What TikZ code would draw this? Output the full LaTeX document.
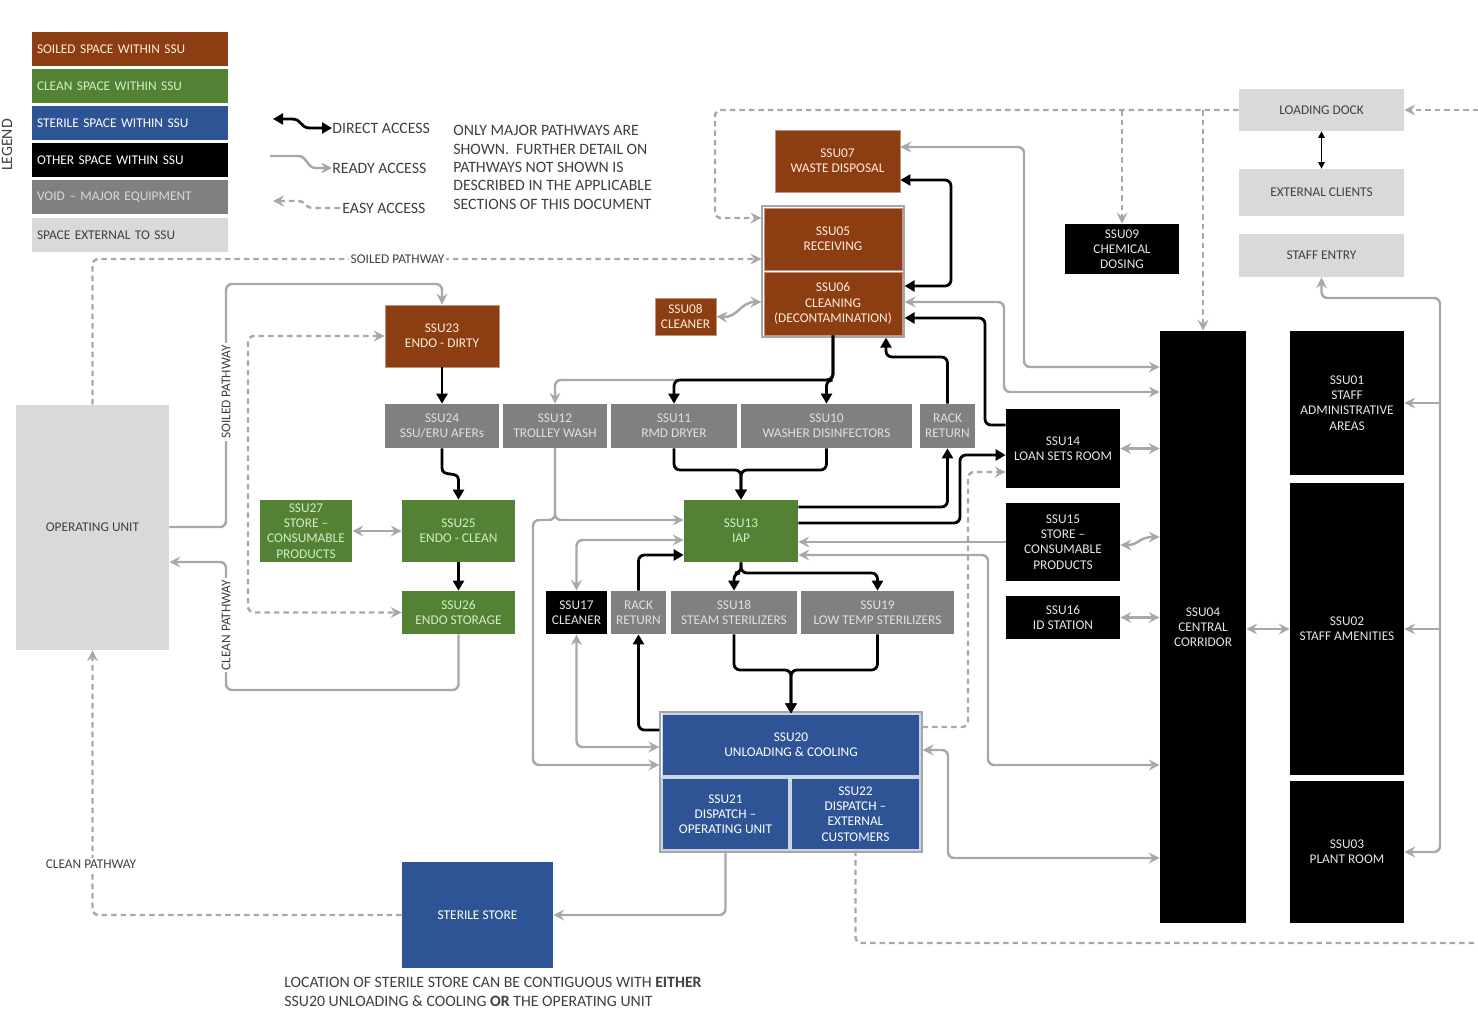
\documentclass[tikz,border=0pt]{standalone}
\usepackage{fontspec}
\setmainfont{Carlito}
\setsansfont{Carlito}
\usepackage{tikz}
\usetikzlibrary{
    arrows.meta,
    positioning,
    fit,
    calc
}
\usepackage{xcolor}
\definecolor{soiled}{RGB}{140,62,18}
\definecolor{clean}{RGB}{84,130,53}
\definecolor{cleantext}{RGB}{214,236,196}
\definecolor{sterile}{RGB}{47,84,150}
\definecolor{voidgray}{RGB}{128,128,128}
\definecolor{extgray}{RGB}{217,217,217}
\definecolor{pathgray}{RGB}{168,168,168}
\definecolor{textgray}{RGB}{64,64,64}
\tikzset{
    % Rooms
    room/.style={
        rectangle,
        inner sep=1pt,
        align=center,
        font=\fontsize{7.6}{8.7}\selectfont
    },
    soiledroom/.style={room, fill=soiled, draw=soiled!55!white, line width=0.5pt, text=white!85!orange},
    cleanroom/.style={room, fill=clean, text=cleantext},
    sterileroom/.style={room, fill=sterile, draw=white!75!sterile, line width=0.6pt, text=white},
    otherroom/.style={room, fill=black, text=white!90!black},
    voidroom/.style={room, fill=voidgray, text=white!88!black},
    extroom/.style={room, fill=extgray, text=textgray},
    framebox/.style={rectangle, draw=white!65!black, line width=0.8pt, inner sep=0.3mm},
    % Legend
    legendbox/.style={
        rectangle,
        minimum height=0.68cm,
        text width=3.72cm,
        inner xsep=0.1cm,
        align=left,
        font=\fontsize{7.6}{8.7}\selectfont
    },
    % Arrows
    directpath/.style={
        ->,
        >={Triangle[length=2mm,width=2.2mm]},
        line width=1.6pt,
        draw=black,
        rounded corners=1.2mm
    },
    readypath/.style={
        ->,
        >={Stealth[length=2.2mm,width=2.2mm,inset=0.8mm]},
        line width=1.4pt,
        draw=pathgray,
        rounded corners=1.2mm
    },
    easypath/.style={
        ->,
        >={Stealth[length=2.2mm,width=2.2mm,inset=0.8mm]},
        line width=1.4pt,
        draw=pathgray,
        dash pattern=on 1.1mm off 0.8mm,
        rounded corners=1.2mm
    },
    thinpath/.style={
        <->,
        >={Triangle[length=1.3mm,width=1.3mm]},
        line width=0.7pt,
        draw=black
    },
    % Labels
    pathlabel/.style={font=\fontsize{7.6}{8.7}\selectfont, text=textgray, fill=white, inner sep=1pt},
    notetext/.style={font=\fontsize{9}{10.5}\selectfont, text=textgray, align=left, inner sep=0pt}
}

\begin{document}
\begin{tikzpicture}[x=0.02cm, y=-0.02cm]

    \useasboundingbox (0,0) rectangle (1478,1011);
    \fill[white] (0,0) rectangle (1478,1011);

    % Legend
    \node[font=\fontsize{9}{10}\selectfont, text=textgray, rotate=90] (legend_title) at (7,145) {LEGEND};
    \node[legendbox, fill=soiled, text=white!85!orange] (leg_soiled) at (130,49) {SOILED SPACE WITHIN SSU};
    \node[legendbox, fill=clean, text=cleantext] (leg_clean) at (130,86) {CLEAN SPACE WITHIN SSU};
    \node[legendbox, fill=sterile, text=white] (leg_sterile) at (130,123) {STERILE SPACE WITHIN SSU};
    \node[legendbox, fill=black, text=white] (leg_other) at (130,160) {OTHER SPACE WITHIN SSU};
    \node[legendbox, fill=voidgray, text=white!85!black] (leg_void) at (130,197) {VOID -- MAJOR EQUIPMENT};
    \node[legendbox, fill=extgray, text=textgray] (leg_ext) at (130,235) {SPACE EXTERNAL TO SSU};

    \node[notetext, anchor=west] (lg_direct) at (332,128) {DIRECT ACCESS};
    \node[notetext, anchor=west] (lg_ready) at (332,168) {READY ACCESS};
    \node[notetext, anchor=west] (lg_easy) at (342,208) {EASY ACCESS};
    \coordinate (lgd) at (273,119);
    \coordinate (lgr) at (270,156);
    \coordinate (lge) at (273,201);
    \draw[directpath, <->, rounded corners=0pt] (lgd) -- (292,119) .. controls (302,119) and (300,128) .. (310,128) -- (lg_direct.west);
    \draw[readypath, rounded corners=0pt] (lgr) -- (298,156) .. controls (308,156) and (306,168) .. (316,168) -- (lg_ready.west);
    \draw[easypath, <-, rounded corners=0pt] (lge) -- (298,201) .. controls (306,201) and (304,208) .. (314,208) -- (lg_easy.west);

    \node[notetext, anchor=north west] (note) at (453,125) {ONLY MAJOR PATHWAYS ARE\\SHOWN.\ \ FURTHER DETAIL ON\\PATHWAYS NOT SHOWN IS\\DESCRIBED IN THE APPLICABLE\\SECTIONS OF THIS DOCUMENT};

    % Soiled area
    \node[soiledroom, minimum width=2.5cm, minimum height=1.24cm] (ssu07) at (837.5,161) {SSU07\\WASTE DISPOSAL};
    \node[soiledroom, minimum width=2.76cm, minimum height=1.24cm] (ssu05) at (833,239) {SSU05\\RECEIVING};
    \node[soiledroom, minimum width=2.76cm, minimum height=1.26cm] (ssu06) at (833,303.5) {SSU06\\CLEANING\\(DECONTAMINATION)};
    \node[framebox, fit=(ssu05)(ssu06)] (recv) {};
    \node[soiledroom, minimum width=1.22cm, minimum height=0.74cm] (ssu08) at (685.5,316.5) {SSU08\\CLEANER};
    \node[soiledroom, minimum width=2.28cm, minimum height=1.24cm] (ssu23) at (442,336) {SSU23\\ENDO - DIRTY};

    % Equipment row
    \node[voidroom, minimum width=2.28cm, minimum height=0.88cm] (ssu24) at (442,426) {SSU24\\SSU/ERU AFERs};
    \node[voidroom, minimum width=2.08cm, minimum height=0.88cm] (ssu12) at (555,426) {SSU12\\TROLLEY WASH};
    \node[voidroom, minimum width=2.52cm, minimum height=0.88cm] (ssu11) at (674,426) {SSU11\\RMD DRYER};
    \node[voidroom, minimum width=3.42cm, minimum height=0.88cm] (ssu10) at (826.5,426) {SSU10\\WASHER DISINFECTORS};
    \node[voidroom, minimum width=1.1cm, minimum height=0.88cm] (rack1) at (947.5,426) {RACK\\RETURN};

    % Clean area
    \node[cleanroom, minimum width=1.84cm, minimum height=1.24cm] (ssu27) at (306,531) {SSU27\\STORE --\\CONSUMABLE\\PRODUCTS};
    \node[cleanroom, minimum width=2.26cm, minimum height=1.24cm] (ssu25) at (458.5,531) {SSU25\\ENDO - CLEAN};
    \node[cleanroom, minimum width=2.26cm, minimum height=0.86cm] (ssu26) at (458.5,612.5) {SSU26\\ENDO STORAGE};
    \node[cleanroom, minimum width=2.28cm, minimum height=1.24cm] (ssu13) at (741,531) {SSU13\\IAP};

    % Sterilizer row
    \node[otherroom, minimum width=1.22cm, minimum height=0.86cm] (ssu17) at (576.5,612.5) {SSU17\\CLEANER};
    \node[voidroom, minimum width=1.1cm, minimum height=0.86cm] (rack2) at (638.5,612.5) {RACK\\RETURN};
    \node[voidroom, minimum width=2.52cm, minimum height=0.86cm] (ssu18) at (734,612.5) {SSU18\\STEAM STERILIZERS};
    \node[voidroom, minimum width=3.06cm, minimum height=0.86cm] (ssu19) at (877.5,612.5) {SSU19\\LOW TEMP STERILIZERS};

    % Sterile area
    \node[sterileroom, minimum width=5.16cm, minimum height=1.24cm] (ssu20) at (791,745) {SSU20\\UNLOADING \& COOLING};
    \node[sterileroom, minimum width=2.54cm, minimum height=1.44cm] (ssu21) at (725.5,814) {SSU21\\DISPATCH --\\OPERATING UNIT};
    \node[sterileroom, minimum width=2.58cm, minimum height=1.44cm] (ssu22) at (855.5,814) {SSU22\\DISPATCH --\\EXTERNAL\\CUSTOMERS};
    \node[framebox, fit=(ssu20)(ssu21)(ssu22)] (dispatch) {};
    \node[room, fill=sterile, text=white, minimum width=3.02cm, minimum height=2.12cm] (sterile) at (477.5,915) {STERILE STORE};

    % Other spaces
    \node[otherroom, minimum width=2.28cm, minimum height=1.0cm] (ssu09) at (1122,249) {SSU09\\CHEMICAL\\DOSING};
    \node[otherroom, minimum width=2.28cm, minimum height=1.58cm] (ssu14) at (1063,448.5) {SSU14\\LOAN SETS ROOM};
    \node[otherroom, minimum width=2.28cm, minimum height=1.56cm] (ssu15) at (1063,542) {SSU15\\STORE --\\CONSUMABLE\\PRODUCTS};
    \node[otherroom, minimum width=2.28cm, minimum height=0.86cm] (ssu16) at (1063,617.5) {SSU16\\ID STATION};
    \node[otherroom, minimum width=1.72cm, minimum height=11.84cm] (ssu04) at (1203,627) {SSU04\\CENTRAL\\CORRIDOR};
    \node[otherroom, minimum width=2.28cm, minimum height=2.88cm] (ssu01) at (1347,403) {SSU01\\STAFF\\ADMINISTRATIVE\\AREAS};
    \node[otherroom, minimum width=2.28cm, minimum height=5.84cm] (ssu02) at (1347,629) {SSU02\\STAFF AMENITIES};
    \node[otherroom, minimum width=2.28cm, minimum height=2.84cm] (ssu03) at (1347,852) {SSU03\\PLANT ROOM};

    % External spaces
    \node[extroom, minimum width=3.3cm, minimum height=0.84cm] (dock) at (1321.5,110) {LOADING DOCK};
    \node[extroom, minimum width=3.3cm, minimum height=0.94cm] (clients) at (1321.5,192.5) {EXTERNAL CLIENTS};
    \node[extroom, minimum width=3.3cm, minimum height=0.86cm] (staffentry) at (1321.5,255.5) {STAFF ENTRY};
    \node[extroom, minimum width=3.06cm, minimum height=4.9cm] (opunit) at (92.5,527.5) {OPERATING UNIT};

    % Junctions
    \coordinate (split6) at (833,380);
    \coordinate (join13) at (741,470);
    \coordinate (split13) at (741,573);
    \coordinate (join20) at (791,670);
    \coordinate (split12) at (555,520);
    \coordinate (edge_ne) at (1478,110);
    \coordinate (edge_se) at (1478,943);

    % Easy access (dashed)
    \draw[easypath] (opunit.north) -- (92.5,259) -- node[pathlabel, pos=0.456] (lbl_soiled_h) {SOILED PATHWAY} (recv.west |- 0,259);
    \draw[easypath] (sterile.west) -| (opunit.south);
    \draw[easypath] (dock.west) -- (715,110) -- (715,218) -- (recv.west |- 0,218);
    \draw[easypath] (ssu09.north |- dock.west) -- (ssu09.north);
    \draw[easypath] (ssu04.north |- dock.west) -- (ssu04.north);
    \draw[easypath] (edge_ne) -- (dock.east);
    \draw[easypath, -] (ssu22.south) |- (edge_se);
    \draw[easypath] (dispatch.east |- 0,727) -- (968,727) -- (968,472) -- (ssu14.west |- 0,472);
    \draw[easypath, <->] (ssu23.west) -- (248,336) -- (248,612.5) -- (ssu26.west);

    % Ready access (grey)
    \draw[readypath] (opunit.east |- 0,527) -- (226,527) -- (226,284) -- (442,284) -- (ssu23.north);
    \draw[readypath] (ssu26.south) -- (458.5,690) -- (226,690) -- (226,562) -- (opunit.east |- 0,562);
    \draw[readypath, <->] (ssu27) -- (ssu25);
    \draw[readypath, <->] (ssu08.east) .. controls (738,318) and (740,302) .. (recv.west |- 0,302);
    \draw[readypath, <->] (ssu07.east |- 0,147) -- (1024,147) -- (1024,367) -- (ssu04.west |- 0,367);
    \draw[readypath, <->] (recv.east |- 0,302) -- (1004,302) -- (1004,392) -- (ssu04.west |- 0,392);
    \draw[readypath] (ssu06.south) -- (split6) -| (ssu12.north);
    \draw[readypath] (ssu12.south) -- (split12) -- (ssu13.west |- split12);
    \draw[readypath] (ssu12.south) -- (split12) -| (533,765) -- (dispatch.west |- 0,765);
    \draw[readypath, <->] (ssu17.north) |- (ssu13.west |- 0,540);
    \draw[readypath, <->] (ssu17.south) |- (dispatch.west |- 0,747);
    \draw[readypath] (ssu15.west) -- (ssu13.east |- ssu15.west);
    \draw[readypath, <->] (ssu13.east |- 0,555) -- (988,555) -- (988,765) -- (ssu04.west |- 0,765);
    \draw[readypath, <->] (dispatch.east |- 0,750) -- (948,750) -- (948,858) -- (ssu04.west |- 0,858);
    \draw[readypath] (ssu21.south) |- (sterile.east);
    \draw[readypath, <->] (ssu14.east) -- (ssu04.west |- ssu14.east);
    \draw[readypath, <->] (ssu15.east |- 0,545) .. controls (1140,545) and (1138,537) .. (ssu04.west |- 0,537);
    \draw[readypath, <->] (ssu16.east) -- (ssu04.west |- ssu16.east);
    \draw[readypath, <->] (ssu04.east |- ssu02.west) -- (ssu02.west);
    \draw[readypath, <->] (ssu03.east) -- (1440,852) -- (1440,298) -| (staffentry.south);
    \draw[readypath] (ssu01.east -| 1440,0) -- (ssu01.east);
    \draw[readypath] (ssu02.east -| 1440,0) -- (ssu02.east);

    % Direct access (black)
    \draw[directpath] (ssu23.south) -- (ssu24.north);
    \draw[directpath] (ssu24.south) -- (442,462) .. controls (442,478) and (458.5,470) .. (458.5,486) -- (ssu25.north);
    \draw[directpath] (ssu25.south) -- (ssu26.north);
    \draw[directpath, <->] (ssu07.east |- 0,180) -- (951,180) -- (951,286) -- (recv.east |- 0,286);
    \draw[directpath] (ssu14.west |- 0,425) -- (985,425) -- (985,318) -- (recv.east |- 0,318);
    \draw[directpath] (rack1.north) -- (947.5,357) -- (886,357) -- (recv.south -| 886,0);
    \draw[directpath] (ssu06.south) -- (split6) -| (ssu11.north);
    \draw[directpath] (ssu06.south) -- (split6) -| (ssu10.north);
    \draw[directpath] (ssu11.south) |- (join13) -- (ssu13.north);
    \draw[directpath] (ssu10.south) |- (join13) -- (ssu13.north);
    \draw[directpath] (ssu13.south) -- (split13) -| (ssu18.north);
    \draw[directpath] (ssu13.south) -- (split13) -| (ssu19.north);
    \draw[directpath] (ssu18.south) |- (join20) -- (ssu20.north);
    \draw[directpath] (ssu19.south) |- (join20) -- (ssu20.north);
    \draw[directpath] (ssu13.east |- 0,507) -| (rack1.south);
    \draw[directpath] (ssu13.east |- 0,523) -- (960,523) -- (960,455) -- (ssu14.west |- 0,455);
    \draw[directpath] (dispatch.west |- 0,730) -| (rack2.south);
    \draw[directpath] (rack2.north) |- (ssu13.west |- 0,555);
    \draw[thinpath] (dock.south) -- (clients.north);

    % Pathway labels
    \node[pathlabel, rotate=90] (lbl_soiled_v) at (226,392) {SOILED PATHWAY};
    \node[pathlabel, rotate=90] (lbl_clean_v) at (226,625) {CLEAN PATHWAY};
    \node[pathlabel] (lbl_clean_h) at (91,864) {CLEAN PATHWAY};

    % Note
    \node[notetext, anchor=north west] (storenote) at (284,977) {LOCATION OF STERILE STORE CAN BE CONTIGUOUS WITH \textbf{EITHER}\\SSU20 UNLOADING \& COOLING \textbf{OR} THE OPERATING UNIT};

\end{tikzpicture}
\end{document}
